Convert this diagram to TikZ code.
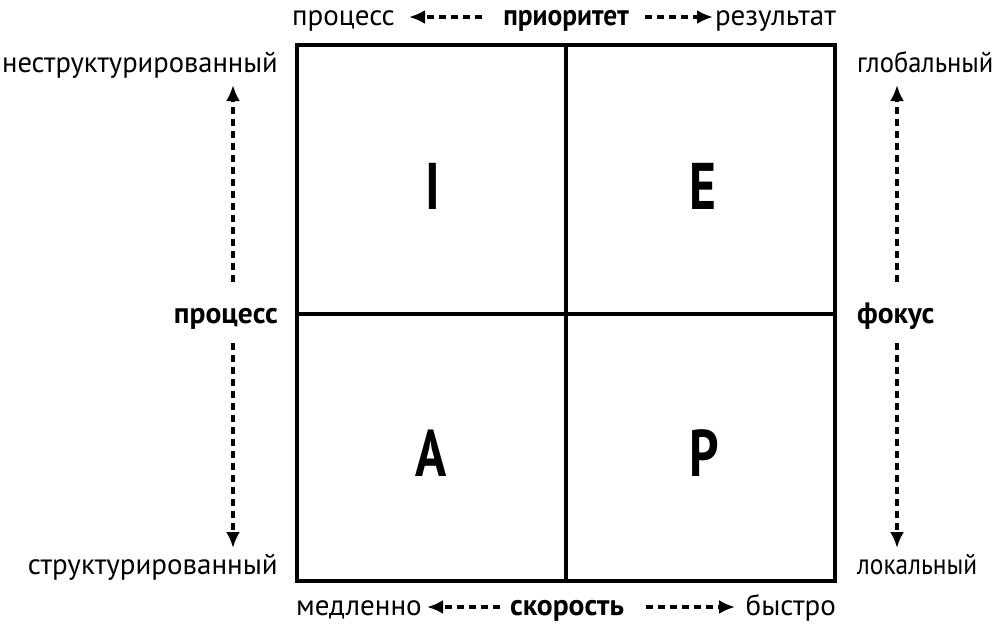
\documentclass[tikz,border=0pt]{standalone}
\usepackage{fontspec}
\setmainfont{PT Sans}
\usetikzlibrary{arrows.meta}
\tikzset{
  lbl/.style={inner sep=0pt, font=\fontsize{29}{32}\selectfont},
  blbl/.style={inner sep=0pt, font=\fontsize{29.5}{32}\selectfont\bfseries},
  big/.style={inner sep=0pt, font=\fontsize{66}{70}\selectfont\bfseries, xscale=0.78, transform shape},
  grid/.style={line width=3.2pt},
  darr/.style={line width=3.4pt, dash pattern=on 7pt off 5pt, -{Latex[length=16pt,width=14pt]}},
}
\begin{document}
\begin{tikzpicture}[x=1pt,y=1pt]
\useasboundingbox (0,0) rectangle (1000,-630);
% square
\draw[grid] (297,-45) rectangle (835,-581);
\draw[grid] (566,-45) -- (566,-581);
\draw[grid] (297,-314) -- (835,-314);
% quadrant letters
\node[big] (qi) at (433,-186) {I};
\node[big] (qe) at (703,-186) {E};
\node[big] (qa) at (431,-453) {A};
\node[big] (qp) at (704,-453) {P};
% top
\node[lbl, anchor=base west] (tl) at (292,-25) {процесс};
\node[blbl, anchor=base] (tm) at (566,-25) {\scalebox{0.93}[1]{приоритет}};
\node[lbl, anchor=base east] (tr) at (836,-25) {результат};
\coordinate (tla) at (482,-17);
\coordinate (tlt) at (409,-17);
\coordinate (tra) at (645,-17);
\coordinate (trt) at (713,-17);
\draw[darr] (tla) -- (tlt);
\draw[darr] (tra) -- (trt);
% bottom
\node[lbl, anchor=base west] (bl) at (296,-615) {медленно};
\node[blbl, anchor=base] (bm) at (567,-615) {скорость};
\node[lbl, anchor=base east] (br) at (836,-615) {быстро};
\coordinate (bla) at (500,-607);
\coordinate (blt) at (427,-607);
\coordinate (bra) at (646,-607);
\coordinate (brt) at (735,-607);
\draw[darr] (bla) -- (blt);
\draw[darr] (bra) -- (brt);
% left
\node[lbl, anchor=base east] (lt) at (278,-72) {\scalebox{0.985}[1]{неструктурированный}};
\node[blbl, anchor=base east] (lm) at (278,-323) {процесс};
\node[lbl, anchor=base east] (lb) at (278,-574) {структурированный};
\coordinate (lua) at (233,-282);
\coordinate (lut) at (233,-85);
\coordinate (lda) at (233,-343);
\coordinate (ldt) at (233,-548);
\draw[darr] (lua) -- (lut);
\draw[darr] (lda) -- (ldt);
% right
\node[lbl, anchor=base west] (rt) at (857,-72) {\scalebox{0.915}[1]{глобальный}};
\node[blbl, anchor=base west] (rm) at (857,-323) {фокус};
\node[lbl, anchor=base west] (rb) at (857,-574) {\scalebox{0.875}[1]{локальный}};
\coordinate (rua) at (897,-282);
\coordinate (rut) at (897,-85);
\coordinate (rda) at (897,-343);
\coordinate (rdt) at (897,-548);
\draw[darr] (rua) -- (rut);
\draw[darr] (rda) -- (rdt);
\end{tikzpicture}
\end{document}
